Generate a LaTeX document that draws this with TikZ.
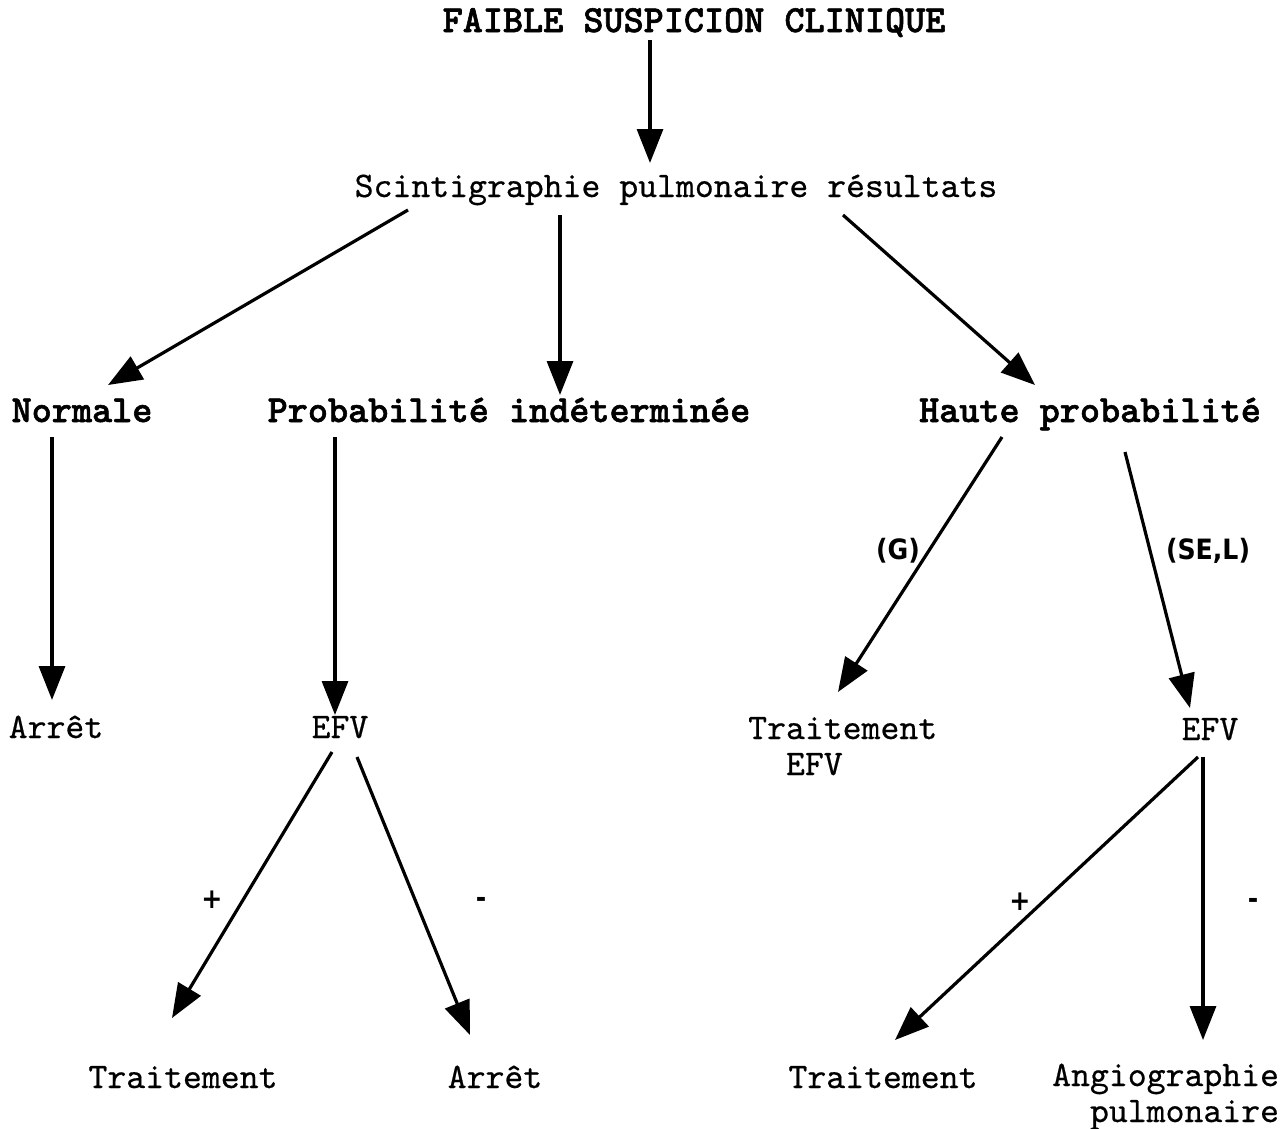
\documentclass[tikz,border=0pt]{standalone}
\usepackage{fontspec}
\newfontfamily\lblfont{DejaVu Sans Condensed}
\newfontfamily\hdrfont{lmmonolt10-bold.otf}[FakeBold=1.5]
\newfontfamily\txtfont{lmmono10-regular.otf}[FakeBold=0.5]
\usetikzlibrary{arrows.meta,calc}
\begin{document}
\begin{tikzpicture}[x=1pt,y=-1pt,
  txt/.style={anchor=base,inner sep=0,align=left,font=\fontsize{36}{36}\selectfont\txtfont},
  hdr/.style={anchor=base,inner sep=0,font=\fontsize{38.3}{38}\selectfont\hdrfont},
  arr/.style={line width=3.2pt,-{Triangle[length=34pt,width=26pt]}},
  lbl/.style={inner sep=0,font=\fontsize{28}{30}\selectfont\lblfont\bfseries}]
\useasboundingbox[fill=white] (0,0) rectangle (1283,1128);
% nodes
\node[hdr] (title) at (694,32) {FAIBLE SUSPICION CLINIQUE};
\node[txt] (scint) at (676,197) {Scintigraphie pulmonaire résultats};
\node[hdr] (normale) at (82,422) {Normale};
\node[hdr] (probind) at (509,422) {Probabilité indéterminée};
\node[hdr] (haute) at (1090,422) {Haute probabilité};
\node[txt] (arret1) at (56,738) {Arrêt};
\node[txt] (efv1) at (340,738) {EFV};
\node[txt,anchor=base west] (trait1) at (748,775) {Traitement\\\hphantom{Tr}EFV};
\node[txt] (efv2) at (1210,740) {EFV};
\node[txt] (trait2) at (183,1088) {Traitement};
\node[txt] (arret2) at (495,1088) {Arrêt};
\node[txt] (trait3) at (883,1088) {Traitement};
\node[txt,anchor=base west] (angio) at (1052,1122) {Angiographie\\\hphantom{An}pulmonaire};
% labels
\node[lbl] (lg) at (898,551) {(G)};
\node[lbl] (lsel) at (1208,551) {(SE,L)};
\node[lbl] (p1) at (212,900) {+};
\node[lbl] (m1) at (481,902) {-};
\node[lbl] (p2) at (1020,902) {+};
\node[lbl] (m2) at (1253,903) {-};
% arrows
\draw[arr] ($(title.base)+(-44,8)$) -- ($(scint.base)+(-26,-34)$);
\draw[arr] ($(scint.base)+(-268,13)$) -- ($(normale.base)+(26,-37)$);
\draw[arr] ($(scint.base)+(-116,18)$) -- ($(probind.base)+(51,-27)$);
\draw[arr] ($(scint.base)+(167,18)$) -- ($(haute.base)+(-55,-37)$);
\draw[arr] ($(normale.base)+(-30,15)$) -- ($(arret1.base)+(-4,-38)$);
\draw[arr] ($(probind.base)+(-174,15)$) -- ($(efv1.base)+(-5,-23)$);
\draw[arr] ($(haute.base)+(-88,15)$) -- ($(trait1.base west)+(90,-83)$);
\draw[arr] ($(haute.base)+(35,30)$) -- ($(efv2.base)+(-20,-32)$);
\draw[arr] ($(efv1.base)+(-8,14)$) -- ($(trait2.base)+(-11,-70)$);
\draw[arr] ($(efv1.base)+(17,19)$) -- ($(arret2.base)+(-25,-53)$);
\draw[arr] ($(efv2.base)+(-12,17)$) -- ($(trait3.base)+(12,-48)$);
\draw[arr] ($(efv2.base)+(-7,17)$) -- ($(angio.base west)+(151,-82)$);
\end{tikzpicture}
\end{document}
